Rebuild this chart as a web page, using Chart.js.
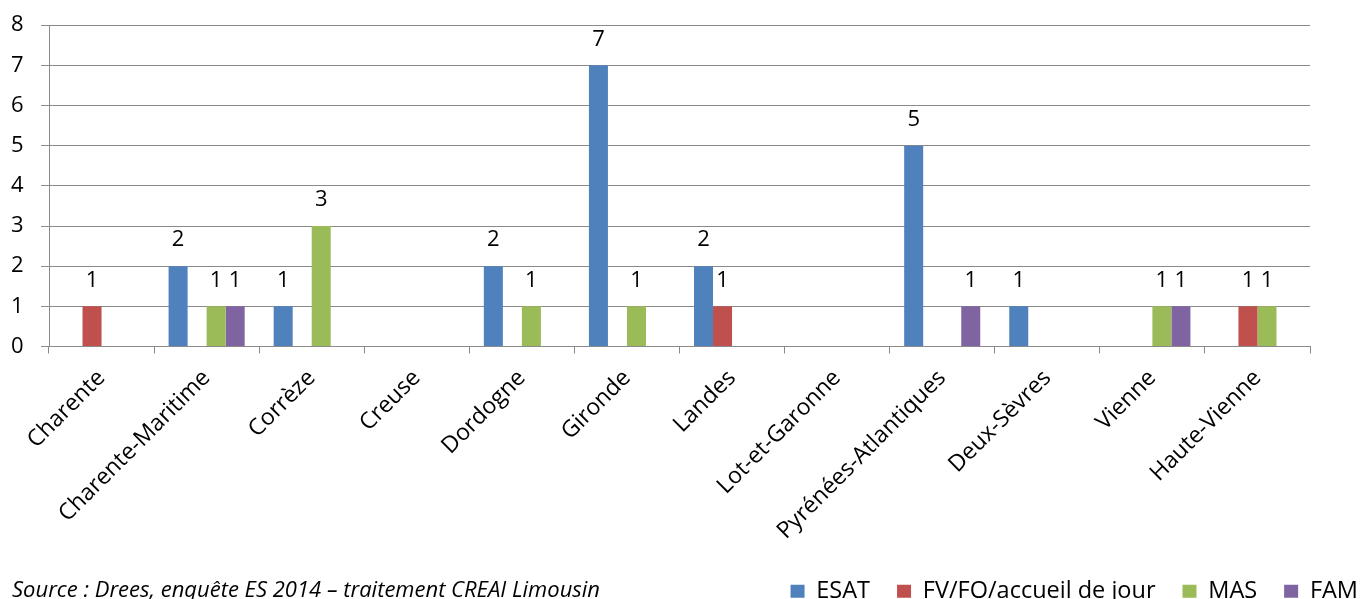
<!DOCTYPE html>
<html>
<head>
<meta charset="utf-8">
<script src="https://cdn.jsdelivr.net/npm/chart.js@4.4.1/dist/chart.umd.min.js"></script>
<style>
  html, body { margin: 0; padding: 0; background: #fff; }
  #wrap { position: relative; width: 1362px; height: 599px; overflow: hidden; }
  #source {
    position: absolute; left: 12px; top: 573px;
    font-family: "Open Sans", sans-serif; font-style: italic; font-size: 22px; color: #000;
    white-space: nowrap;
  }
</style>
</head>
<body>
<div id="wrap">
  <canvas id="chart" width="1362" height="599"></canvas>
  <div id="source">Source : Drees, enquête ES 2014 – traitement CREAI Limousin</div>
</div>
<script>
// categories and series
const categories = ['Charente', 'Charente-Maritime', 'Corrèze', 'Creuse', 'Dordogne', 'Gironde',
  'Landes', 'Lot-et-Garonne', 'Pyrénées-Atlantiques', 'Deux-Sèvres', 'Vienne', 'Haute-Vienne'];
const esat = [0, 2, 1, 0, 2, 7, 2, 0, 5, 1, 0, 0];
const fvfo = [1, 0, 0, 0, 0, 0, 1, 0, 0, 0, 0, 1];
const mas  = [0, 1, 3, 0, 1, 1, 0, 0, 0, 0, 1, 1];
const fam  = [0, 1, 0, 0, 0, 0, 0, 0, 1, 0, 1, 0];
const seriesNames = ['ESAT', 'FV/FO/accueil de jour', 'MAS', 'FAM'];
const yTicks = [0, 1, 2, 3, 4, 5, 6, 7, 8];

const colors = ['#4F81BD', '#C0504D', '#9BBB59', '#8064A2'];
const gridColor = '#8a8a8a';
const fontFamily = '"Open Sans", sans-serif';

// draws the value above each non-zero bar
const valueLabels = {
  id: 'valueLabels',
  afterDatasetsDraw(chart) {
    const ctx = chart.ctx;
    ctx.save();
    ctx.font = '22px ' + fontFamily;
    ctx.fillStyle = '#000';
    ctx.textAlign = 'center';
    ctx.textBaseline = 'middle';
    chart.data.datasets.forEach((ds, i) => {
      const meta = chart.getDatasetMeta(i);
      meta.data.forEach((bar, j) => {
        const v = ds.data[j];
        if (v > 0) ctx.fillText(String(v), bar.x, bar.y - 26);
      });
    });
    ctx.restore();
  }
};

const datasets = [esat, fvfo, mas, fam].map((values, i) => ({
  label: seriesNames[i],
  data: values,
  backgroundColor: colors[i],
  borderWidth: 0,
  categoryPercentage: 0.724,
  barPercentage: 1.0
}));

new Chart(document.getElementById('chart'), {
  type: 'bar',
  data: { labels: categories, datasets: datasets },
  options: {
    responsive: false,
    animation: false,
    layout: { padding: { top: 0, left: 11, right: -23, bottom: -14 } },
    plugins: {
      tooltip: { enabled: false },
      legend: {
        position: 'bottom',
        align: 'end',
        labels: {
          boxWidth: 14,
          boxHeight: 13,
          padding: 27,
          color: '#000',
          font: { family: fontFamily, size: 23.5 }
        }
      }
    },
    scales: {
      x: {
        grid: { drawOnChartArea: false, drawTicks: true, tickLength: 7, color: gridColor, offset: true },
        border: { color: gridColor },
        ticks: {
          color: '#000',
          font: { family: fontFamily, size: 23 },
          minRotation: 45,
          maxRotation: 45,
          padding: 11,
          autoSkip: false
        },
        afterFit(scale) { scale.height = 206; }
      },
      y: {
        min: yTicks[0],
        max: yTicks[yTicks.length - 1],
        afterBuildTicks(scale) { scale.ticks = yTicks.map(v => ({ value: v })); },
        grid: { color: gridColor, tickLength: 8 },
        border: { color: gridColor },
        ticks: {
          color: '#000',
          font: { family: fontFamily, size: 22 },
          crossAlign: 'far',
          padding: 12
        },
        afterFit(scale) { scale.width = 38; }
      },
      yR: {
        position: 'right',
        display: true,
        grid: { display: false },
        border: { display: false },
        ticks: { display: false },
        afterFit(scale) { scale.width = 75; }
      }
    }
  },
  plugins: [valueLabels]
});
</script>
</body>
</html>
